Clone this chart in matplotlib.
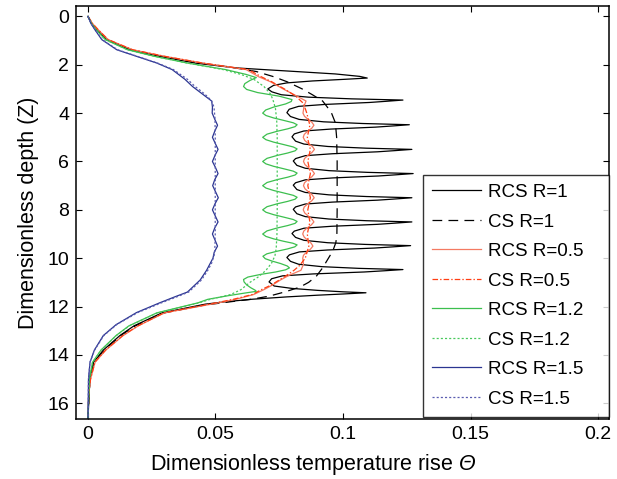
import numpy as np
import matplotlib
matplotlib.use("Agg")
import matplotlib.pyplot as plt

plt.rcParams['font.family'] = ['Liberation Sans', 'DejaVu Sans']
plt.rcParams['mathtext.fontset'] = 'custom'
plt.rcParams['mathtext.rm'] = 'Liberation Sans:italic'
plt.rcParams['lines.scale_dashes'] = False

# ---- data (Z = depth, th = temperature rise) ----
z_rcs1 = [0, 0.3, 0.55, 0.96, 1.38, 1.65, 1.93, 2.13, 2.27, 2.38, 2.48, 2.55, 2.6, 2.67, 2.75, 2.85, 3.0,
          3.12, 3.24, 3.34, 3.41, 3.46, 3.51, 3.56, 3.64, 3.72, 3.84, 3.98,
          4.14, 4.26, 4.36, 4.43, 4.48, 4.53, 4.58, 4.66, 4.74, 4.86, 4.98,
          5.16, 5.28, 5.38, 5.45, 5.5, 5.55, 5.6, 5.68, 5.76, 5.88, 5.98,
          6.16, 6.28, 6.38, 6.45, 6.5, 6.55, 6.6, 6.68, 6.76, 6.88, 6.98,
          7.16, 7.28, 7.38, 7.45, 7.5, 7.55, 7.6, 7.68, 7.76, 7.88, 7.98,
          8.16, 8.28, 8.38, 8.45, 8.5, 8.55, 8.6, 8.68, 8.76, 8.88, 8.98,
          9.14, 9.26, 9.36, 9.43, 9.48, 9.53, 9.58, 9.66, 9.74, 9.86, 9.97,
          10.13, 10.25, 10.35, 10.42, 10.47, 10.52, 10.57, 10.65, 10.73, 10.85, 10.98,
          11.15, 11.25, 11.33, 11.39, 11.43, 11.48, 11.53, 11.6, 11.7, 11.8, 11.9,
          12.26, 12.8, 13.2, 13.8, 14.3, 15.0, 16.65]
th_rcs1 = [0, 0.0015, 0.0035, 0.0075, 0.0165, 0.028, 0.042, 0.058, 0.080, 0.097, 0.1065, 0.1095, 0.101, 0.088, 0.078, 0.0728, 0.0705,
           0.0721, 0.0758, 0.0864, 0.1034, 0.1235, 0.1171, 0.1103, 0.0930, 0.0826, 0.0789, 0.078,
           0.0794, 0.0828, 0.0924, 0.1078, 0.126, 0.1196, 0.1127, 0.0952, 0.0846, 0.0809, 0.080,
           0.0814, 0.0847, 0.0941, 0.1091, 0.127, 0.1205, 0.1135, 0.0958, 0.0852, 0.0814, 0.0805,
           0.0819, 0.0852, 0.0946, 0.1096, 0.1275, 0.1209, 0.1139, 0.0960, 0.0852, 0.0814, 0.0805,
           0.0819, 0.0852, 0.0945, 0.1093, 0.127, 0.1205, 0.1135, 0.0958, 0.0852, 0.0814, 0.0805,
           0.0819, 0.0852, 0.0945, 0.1093, 0.127, 0.1204, 0.1134, 0.0955, 0.0847, 0.0809, 0.080,
           0.0814, 0.0847, 0.0940, 0.1088, 0.1265, 0.1197, 0.1124, 0.0940, 0.0829, 0.0790, 0.078,
           0.0794, 0.0826, 0.0917, 0.1062, 0.1235, 0.1162, 0.1083, 0.0883, 0.0763, 0.0720, 0.071,
           0.073, 0.080, 0.090, 0.100, 0.109, 0.100, 0.090, 0.078, 0.064, 0.054, 0.046,
           0.029, 0.018, 0.0125, 0.006, 0.0022, 0.0007, 0]

z_cs1 = [0, 0.3, 0.55, 0.96, 1.38, 1.65, 1.93, 2.1, 2.28, 2.5, 2.7, 3.0, 3.24, 3.5, 3.73, 4.0, 4.4, 5.0, 6.0, 7.0,
         8.0, 9.0, 9.35, 9.7, 10.05, 10.4, 10.75, 11.0, 11.2, 11.4, 11.57, 11.7, 11.8, 11.95, 12.26, 12.8, 13.2,
         13.8, 14.3, 15.0, 16.65]
th_cs1 = [0, 0.0015, 0.0035, 0.0075, 0.017, 0.029, 0.044, 0.056, 0.066, 0.073, 0.078, 0.084, 0.088, 0.092, 0.0937,
          0.0955, 0.097, 0.0975, 0.0977, 0.0977, 0.0977, 0.0976, 0.0972, 0.096, 0.094, 0.092, 0.0895, 0.0865, 0.083,
          0.077, 0.071, 0.064, 0.056, 0.045, 0.030, 0.0185, 0.0128, 0.0065, 0.0024, 0.0008, 0]

z_rcs05 = [0, 0.3, 0.55, 0.96, 1.38, 1.65, 1.93, 2.2, 2.5, 2.7, 3.0, 3.3, 3.5, 3.72, 3.87,
           4.0, 4.13, 4.25, 4.38, 4.5, 4.63, 4.75, 4.88, 5.0, 5.13, 5.25, 5.38, 5.5, 5.63, 5.75, 5.88,
           6.0, 6.13, 6.25, 6.38, 6.5, 6.63, 6.75, 6.88, 7.0, 7.13, 7.25, 7.38, 7.5, 7.63, 7.75, 7.88,
           8.0, 8.13, 8.25, 8.38, 8.5, 8.63, 8.75, 8.88, 9.0, 9.13, 9.25, 9.38, 9.5, 9.63, 9.75, 9.88,
           10.0, 10.25, 10.5, 10.7, 10.9, 11.1, 11.3, 11.5,
           11.7, 11.85, 12.26, 12.8, 13.2, 13.8, 14.3, 15.0, 15.6, 16.65]
th_rcs05 = [0, 0.0018, 0.004, 0.0079, 0.0175, 0.030, 0.045, 0.062, 0.067, 0.0715, 0.0765, 0.082, 0.0855, 0.0847, 0.0845,
            0.0843, 0.0849, 0.0862, 0.0878, 0.0886, 0.0877, 0.0861, 0.0848,
            0.0844, 0.085, 0.0863, 0.088, 0.0888, 0.0878, 0.0862, 0.0849,
            0.0845, 0.0851, 0.0864, 0.088, 0.0888, 0.0878, 0.0863, 0.0849,
            0.0845, 0.0851, 0.0864, 0.0879, 0.0887, 0.0877, 0.0862, 0.0848,
            0.0844, 0.085, 0.0863, 0.0878, 0.0886, 0.0875, 0.0859, 0.0846,
            0.0842, 0.0848, 0.0861, 0.0875, 0.0882, 0.0872, 0.0857, 0.0845,
            0.0842, 0.0845, 0.0835, 0.079, 0.0755, 0.0725, 0.069, 0.065,
            0.058, 0.051, 0.030, 0.0197, 0.0138, 0.007, 0.0028, 0.001, 0.0003, 0]

z_cs05 = [0, 0.3, 0.55, 0.96, 1.38, 1.65, 1.93, 2.2, 2.5, 2.7, 3.0, 3.3, 3.6, 4.0, 4.5, 5.0, 5.5, 6.0, 6.5,
          7.0, 7.5, 8.0, 8.5, 9.0, 9.5, 10.0, 10.3, 10.5, 10.7, 10.9, 11.1, 11.3, 11.5, 11.7, 11.85, 12.26,
          12.8, 13.2, 13.8, 14.3, 15.0, 15.6, 16.65]
th_cs05 = [0, 0.0018, 0.004, 0.0079, 0.0175, 0.030, 0.045, 0.063, 0.068, 0.072, 0.077, 0.0815, 0.0845, 0.0858,
           0.087, 0.086, 0.0872, 0.0862, 0.0872, 0.0862, 0.0872, 0.0862, 0.087, 0.086, 0.0866, 0.0852, 0.083,
           0.0808, 0.078, 0.075, 0.072, 0.068, 0.0645, 0.057, 0.050, 0.0298, 0.0195, 0.0136, 0.0069, 0.0027,
           0.001, 0.0003, 0]

z_rcs12 = [0, 0.3, 0.55, 0.96, 1.38, 1.65, 1.93, 2.2, 2.4, 2.53, 2.65, 2.78, 2.9, 3.02, 3.15, 3.3, 3.44,
           3.52, 3.62, 3.75, 3.87, 4.0,
           4.1, 4.2, 4.3, 4.4, 4.48, 4.56, 4.65, 4.75, 4.87, 5.0,
           5.1, 5.2, 5.3, 5.4, 5.48, 5.56, 5.65, 5.75, 5.87, 6.0,
           6.1, 6.2, 6.3, 6.4, 6.48, 6.56, 6.65, 6.75, 6.87, 7.0,
           7.1, 7.2, 7.3, 7.4, 7.48, 7.56, 7.65, 7.75, 7.87, 8.0,
           8.1, 8.2, 8.3, 8.4, 8.48, 8.56, 8.65, 8.75, 8.87, 9.0,
           9.1, 9.2, 9.3, 9.38, 9.45, 9.53, 9.62, 9.72, 9.82, 9.92,
           10.02, 10.12, 10.22, 10.32, 10.4, 10.48, 10.57, 10.67, 10.78, 10.88,
           10.98, 11.1, 11.22, 11.32, 11.37, 11.45, 11.55, 11.7, 11.85,
           12.26, 12.8, 13.2, 13.8, 14.3, 15.0, 16.65]
th_rcs12 = [0, 0.0014, 0.0032, 0.0068, 0.0155, 0.026, 0.039, 0.054, 0.062, 0.066, 0.0635, 0.0615, 0.061, 0.0622,
            0.0665, 0.075, 0.080, 0.0797, 0.0775, 0.0728, 0.0697, 0.0685,
            0.0698, 0.0728, 0.0767, 0.0805, 0.082, 0.0812, 0.0783, 0.0742, 0.0702, 0.0685,
            0.0698, 0.0728, 0.0767, 0.0805, 0.082, 0.0812, 0.0783, 0.0742, 0.0702, 0.0685,
            0.0698, 0.0728, 0.0767, 0.0805, 0.082, 0.0812, 0.0783, 0.0742, 0.0702, 0.0685,
            0.0698, 0.0728, 0.0767, 0.0805, 0.082, 0.0812, 0.0783, 0.0742, 0.0702, 0.0685,
            0.0698, 0.0728, 0.0767, 0.0805, 0.082, 0.0812, 0.0783, 0.0742, 0.0702, 0.0685,
            0.0698, 0.0728, 0.0767, 0.0803, 0.082, 0.0811, 0.0781, 0.0738, 0.0701, 0.0686,
            0.0695, 0.0722, 0.0755, 0.0781, 0.079, 0.0775, 0.0736, 0.0677, 0.0627, 0.061,
            0.0612, 0.0622, 0.0638, 0.0655, 0.066, 0.061, 0.055, 0.047, 0.043,
            0.027, 0.016, 0.011, 0.0051, 0.0018, 0.0005, 0]

z_cs12 = [0, 0.3, 0.55, 0.96, 1.38, 1.65, 1.93, 2.2, 2.4, 2.6, 2.9, 3.2, 3.44, 3.8, 4.3, 5.0, 6.0, 7.0, 8.0,
          9.0, 9.6, 9.9, 10.2, 10.5, 10.76, 11.0, 11.3, 11.5, 11.7, 11.85, 12.26, 12.8, 13.2, 13.8, 14.3,
          15.0, 16.65]
th_cs12 = [0, 0.0014, 0.0032, 0.0068, 0.0155, 0.026, 0.039, 0.053, 0.060, 0.065, 0.069, 0.0715, 0.0725,
           0.0735, 0.074, 0.0742, 0.0742, 0.0742, 0.0742, 0.0741, 0.0738, 0.0733, 0.072, 0.0698, 0.067,
           0.0635, 0.060, 0.056, 0.048, 0.0435, 0.0272, 0.0162, 0.0111, 0.0052, 0.0018, 0.0005, 0]

z_rcs15 = [0, 0.3, 0.55, 0.96, 1.38, 1.65, 1.93, 2.2, 2.6, 2.9, 3.1, 3.3, 3.5, 3.75,
           4.0, 4.25, 4.5, 4.75, 5.0, 5.25, 5.5, 5.75, 6.0, 6.25, 6.5, 6.75, 7.0, 7.25, 7.5, 7.75,
           8.0, 8.25, 8.5, 8.75, 9.0, 9.25, 9.5, 9.75, 10.0, 10.2, 10.5, 10.9, 11.2, 11.4, 11.6, 11.85,
           12.25, 12.75, 13.2, 13.8, 14.3, 15.0, 16.65]
th_rcs15 = [0, 0.0012, 0.0027, 0.0054, 0.0113, 0.019, 0.027, 0.033, 0.038, 0.041, 0.0435, 0.046, 0.0485,
            0.0488, 0.0487, 0.0497, 0.0508, 0.0497, 0.0488, 0.0499, 0.051, 0.0498, 0.0488, 0.05, 0.051,
            0.0497, 0.0489, 0.05, 0.0511, 0.0498, 0.0488, 0.0499, 0.051, 0.0497, 0.0488, 0.0498, 0.0508,
            0.0495, 0.049, 0.048, 0.0465, 0.044, 0.041, 0.039, 0.034, 0.028, 0.019, 0.011, 0.006, 0.0025,
            0.0008, 0.0002, 0]

z_cs15 = [0, 0.3, 0.55, 0.96, 1.38, 1.65, 1.93, 2.2, 2.6, 2.9, 3.1, 3.3, 3.5, 3.75, 4.2, 5.0, 6.0, 7.0,
          8.0, 9.0, 9.8, 10.2, 10.5, 10.9, 11.2, 11.4, 11.6, 11.85, 12.25, 12.75, 13.2, 13.8, 14.3, 15.0, 16.65]
th_cs15 = [0, 0.0012, 0.0028, 0.0056, 0.0116, 0.0193, 0.0273, 0.0335, 0.039, 0.042, 0.0445, 0.0467, 0.0485,
           0.0494, 0.0498, 0.0499, 0.0499, 0.0499, 0.0499, 0.0499, 0.0497, 0.0485, 0.047, 0.0445, 0.0415,
           0.0395, 0.0348, 0.0287, 0.0195, 0.0112, 0.0062, 0.0026, 0.0008, 0.0002, 0]

labels = ["RCS R=1", "CS R=1", "RCS R=0.5", "CS R=0.5",
          "RCS R=1.2", "CS R=1.2", "RCS R=1.5", "CS R=1.5"]

fig = plt.figure(figsize=(6.17, 4.79), dpi=100)
ax = fig.add_axes([76/617, 1-419/479, (609-76)/617, (419-6)/479])

lw = 0.9
ax.plot(th_rcs1, z_rcs1, color="k", lw=lw, label=labels[0])
ax.plot(th_cs1, z_cs1, color="k", lw=lw, dashes=(7, 4.5), label=labels[1])
ax.plot(th_rcs05, z_rcs05, color="#f47a62", lw=lw, label=labels[2])
ax.plot(th_cs05, z_cs05, color="#ff3d12", lw=lw, dashes=(4, 1.5, 1, 1.5), label=labels[3])
ax.plot(th_rcs12, z_rcs12, color="#3cbf4e", lw=lw, label=labels[4])
ax.plot(th_cs12, z_cs12, color="#48c95c", lw=lw, dashes=(1.5, 1.5), label=labels[5])
ax.plot(th_rcs15, z_rcs15, color="#2b3591", lw=lw, label=labels[6])
ax.plot(th_cs15, z_cs15, color="#5a5cb0", lw=lw, dashes=(1.5, 1.5), label=labels[7])

ax.set_xlim(-0.0047, 0.2043)
ax.set_ylim(16.65, -0.43)
ax.set_xticks([0, 0.05, 0.1, 0.15, 0.2])
ax.set_xticklabels(["0", "0.05", "0.1", "0.15", "0.2"])
ax.set_yticks(range(0, 17, 2))
ax.tick_params(direction="in", top=True, right=True, length=4, width=0.8, labelsize=14, pad=5)
for s in ax.spines.values():
    s.set_linewidth(1.1)

ax.set_xlabel(r"Dimensionless temperature rise $\Theta$", fontsize=15.5)
ax.xaxis.set_label_coords(0.444, -0.08)
ax.set_ylabel("Dimensionless depth (Z)", fontsize=15.5, labelpad=6)

leg = ax.legend(loc="lower left", bbox_to_anchor=(0.651, 0.005, 0.349, 0.5785), mode="expand",
                fontsize=13.5, frameon=True, fancybox=False, edgecolor="k",
                handlelength=2.6, handletextpad=0.37, labelspacing=0.66, borderaxespad=0,
                borderpad=0.5)
leg.get_frame().set_linewidth(1.0)

fig.savefig("out.png", dpi=100)
